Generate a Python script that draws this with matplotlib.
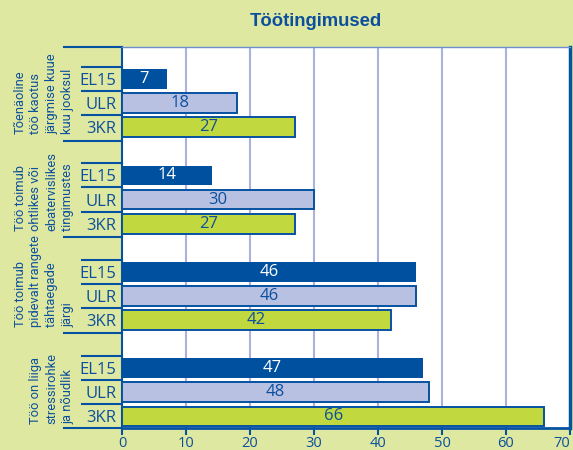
import numpy as np
import matplotlib.pyplot as plt
from matplotlib.lines import Line2D
from matplotlib import font_manager

# data
groups = [
    "Tõenäoline\ntöö kaotus\njärgmise kuue\nkuu jooksul",
    "Töö toimub\nohtlikes või\nebatervislikes\ntingimustes",
    "Töö toimub\npidevalt rangete\ntähtaegade\njärgi",
    "Töö on liiga\nstressirohke\nja nõudlik",
]
series = ["EL15", "ULR", "3KR"]
el15 = [7, 14, 46, 47]
ulr = [18, 30, 46, 48]
kr3 = [27, 27, 42, 66]

bg = "#dfe8a0"
dark = "#0652a2"
txt = "#0b4f9e"
fills = ["#0050a0", "#b9c1e2", "#c1d83e"]
edges = [None, dark, dark]
label_colors = ["white", txt, txt]

installed = {f.name for f in font_manager.fontManager.ttflist}
narrow = "Liberation Sans Narrow" if "Liberation Sans Narrow" in installed else "Roboto"
narrow_size = 10.8 if narrow == "Liberation Sans Narrow" else 9.3
narrow_spacing = 1.1 if narrow == "Liberation Sans Narrow" else 1.28

fig = plt.figure(figsize=(5.73, 4.5), dpi=100, facecolor=bg)
ax = fig.add_axes([122 / 573, 22 / 450, 448 / 573, 381 / 450])
ax.set_facecolor("white")

lab_font = "Open Sans"
values = [el15, ulr, kr3]
ypos_all, ylabels = [], []
for g in range(len(groups)):
    for i, name in enumerate(series):
        y = 4 * g + i + 1
        v = values[i][g]
        ax.barh(y, v, height=0.82, color=fills[i],
                edgecolor=edges[i] if edges[i] else "none",
                linewidth=1.4 if edges[i] else 0, zorder=3)
        ax.text(v / 2, y, str(v), ha="center", va="center", fontsize=12,
                color=label_colors[i], family=lab_font, zorder=4)
        ypos_all.append(y)
        ylabels.append(name)

ax.set_xlim(0, 70)
ax.set_ylim(15.48, -0.33)
ax.set_xticks(range(0, 71, 10))
ax.tick_params(axis="x", colors=dark, length=5, width=1.5, labelsize=10.5,
               labelcolor=txt, pad=1)
xlabels = ax.get_xticklabels()
for lbl in xlabels:
    lbl.set_family(lab_font)
xlabels[-1].set_horizontalalignment("right")
ax.set_yticks(ypos_all)
ax.set_yticklabels(ylabels, fontsize=12, color=txt, family=lab_font)
ax.tick_params(axis="y", length=0, pad=4)

for x in range(10, 70, 10):
    ax.axvline(x, color="#a9b3dd", lw=1.5, zorder=1)

ax.spines["left"].set_color(dark)
ax.spines["left"].set_linewidth(1.5)
ax.spines["bottom"].set_color(dark)
ax.spines["bottom"].set_linewidth(2)
ax.spines["right"].set_color(dark)
ax.spines["right"].set_linewidth(2.5)
ax.spines["top"].set_color("#6d8fd0")
ax.spines["top"].set_linewidth(1)

# separator ticks on the left
trans = ax.get_yaxis_transform()
long_x = (64 - 122) / 448
short_x = (82 - 122) / 448
for yy in [-0.33, 3.58, 7.56, 11.52, 15.48]:
    ax.add_line(Line2D([long_x, 0], [yy, yy], transform=trans, color=dark,
                       lw=1.5, clip_on=False))
for g in range(4):
    for k in range(3):
        yy = 4 * g + k + 0.5
        ax.add_line(Line2D([short_x, 0], [yy, yy], transform=trans, color=dark,
                           lw=1.5, clip_on=False))

# rotated group labels
label_x = (74 - 122) / 448
for g, name in enumerate(groups):
    ax.text(label_x, 4 * g + 3.3, name, transform=trans, rotation=90,
            rotation_mode="anchor", ha="left", va="bottom", multialignment="left",
            fontsize=narrow_size, linespacing=narrow_spacing, color=txt,
            family=narrow)

fig.text(316 / 573, 1 - 21 / 450, "Töötingimused", ha="center", va="center",
         fontsize=13.3, fontweight="bold", color=txt, family="Liberation Sans")

fig.savefig("out.png", dpi=100, facecolor=bg)
